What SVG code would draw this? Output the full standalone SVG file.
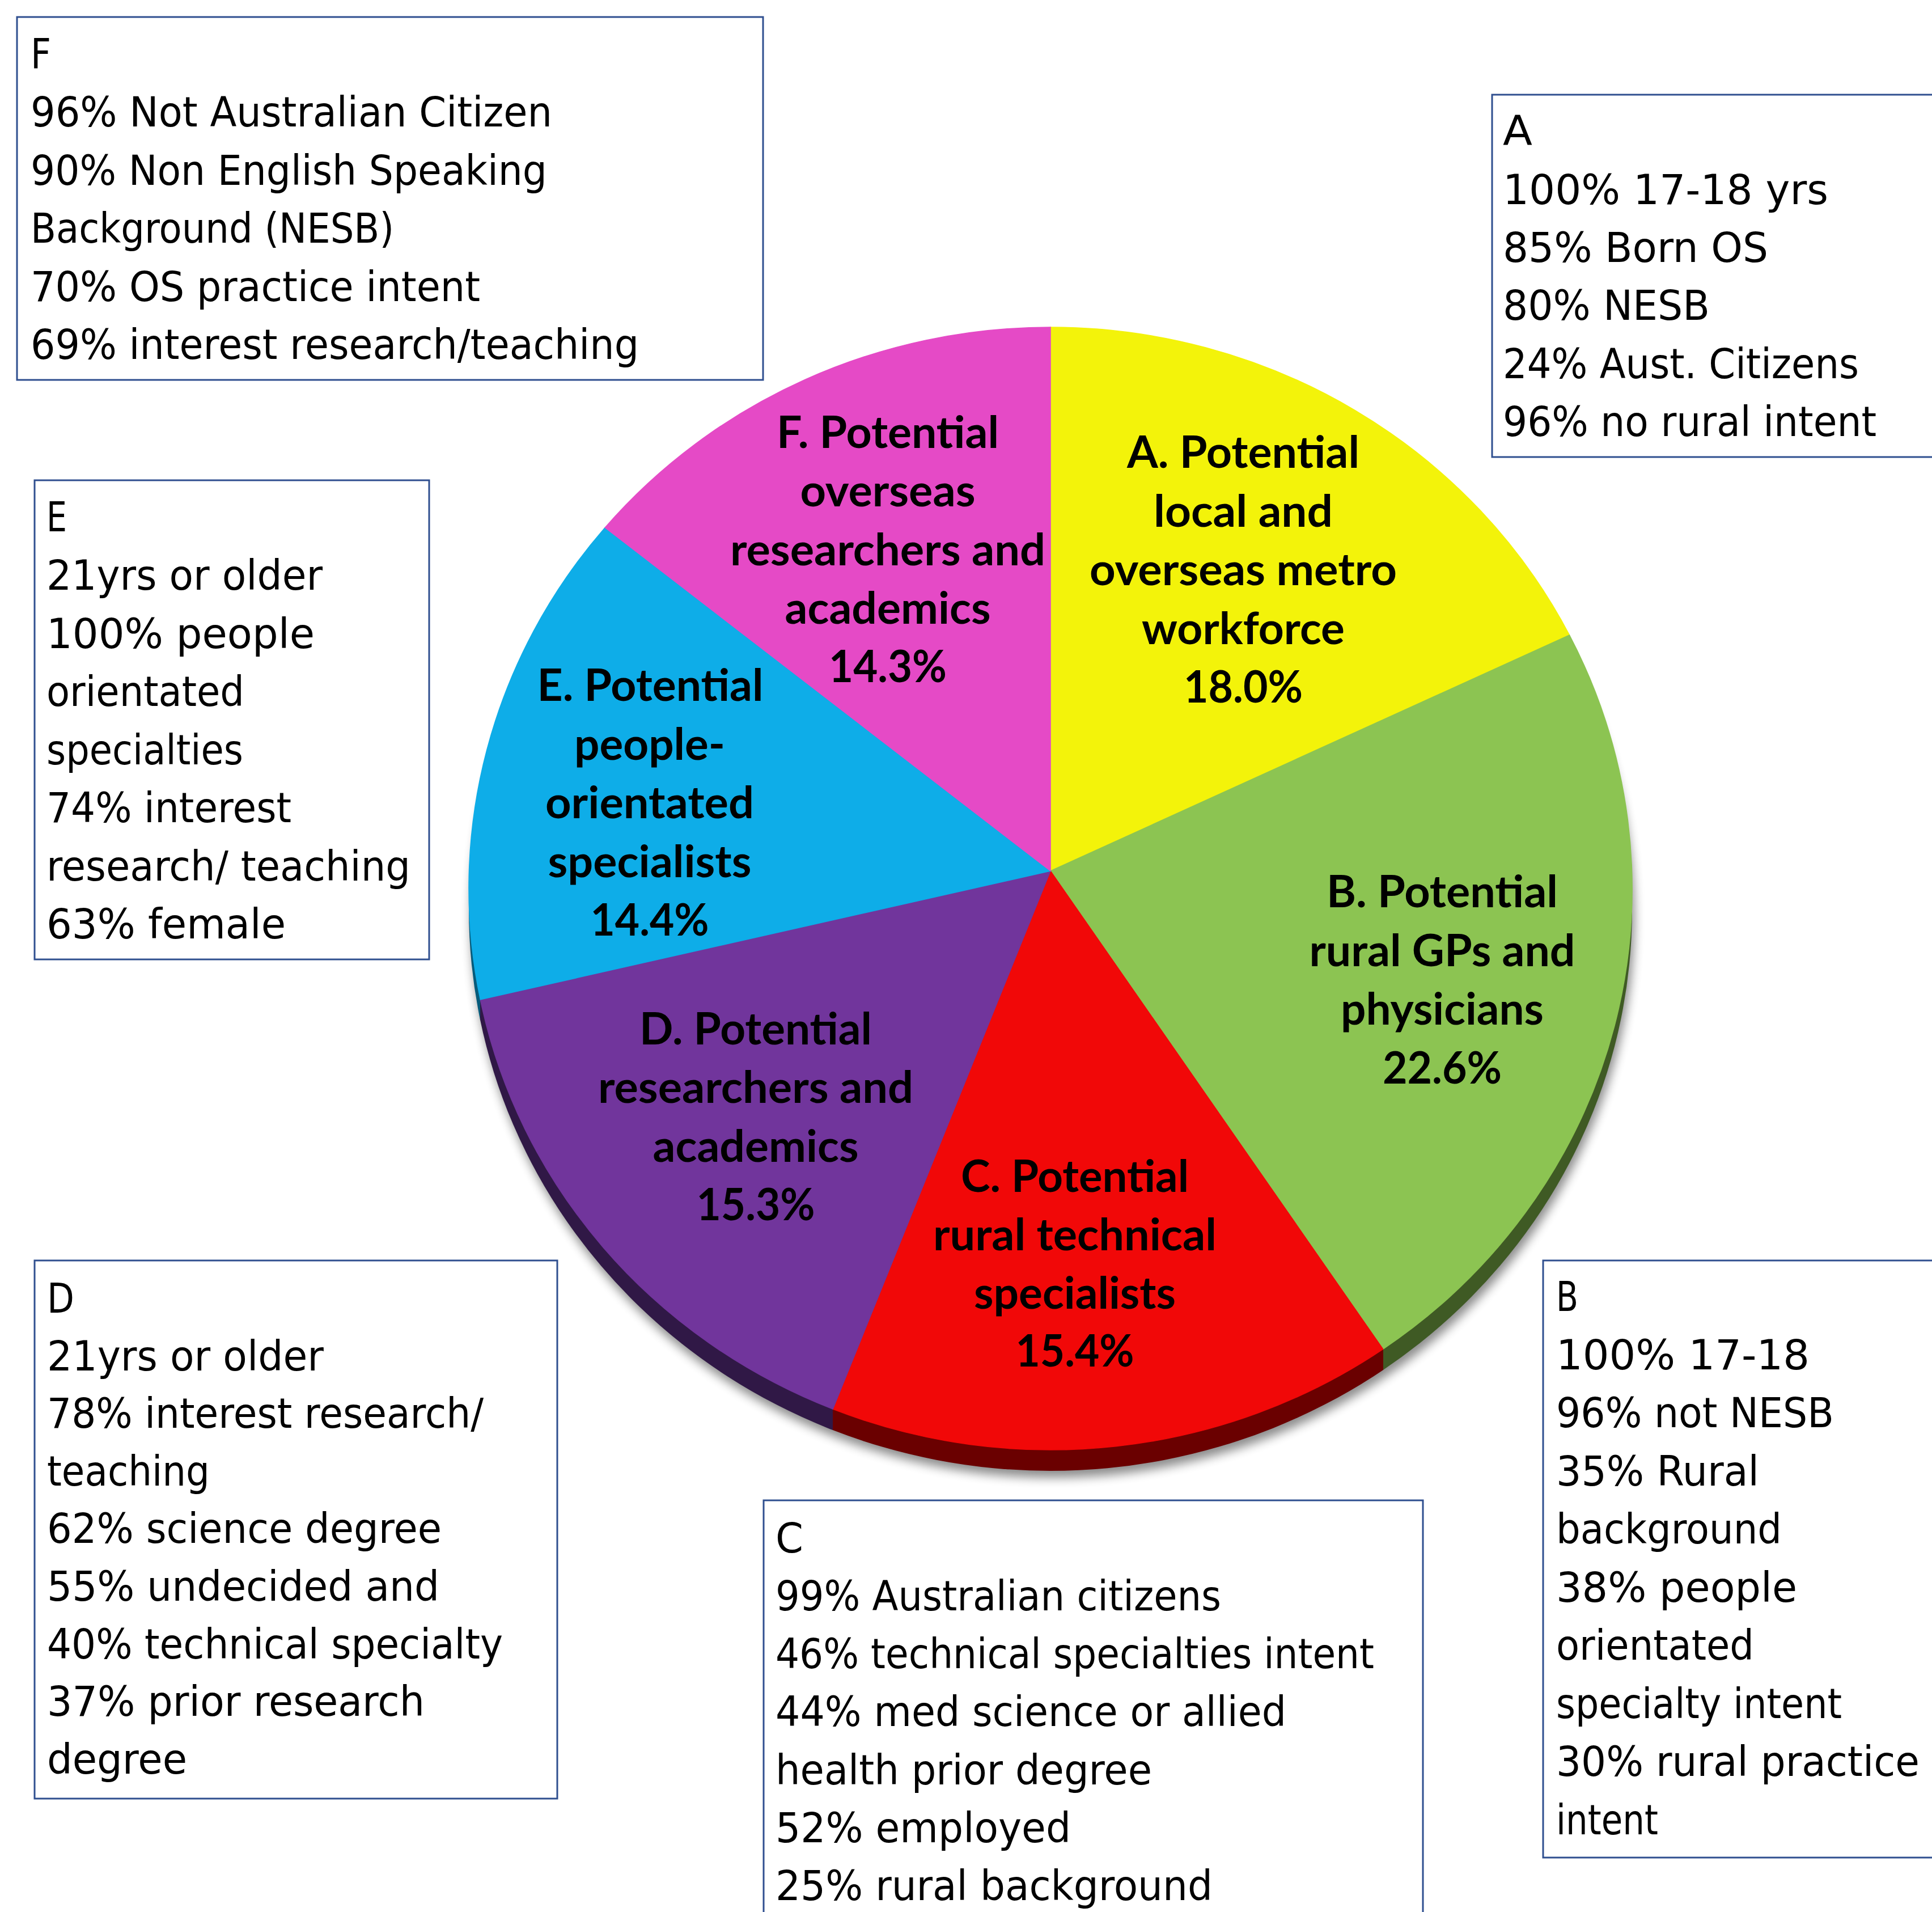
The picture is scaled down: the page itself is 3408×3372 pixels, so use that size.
<svg xmlns="http://www.w3.org/2000/svg" width="3408" height="3372" viewBox="0 0 3408 3372">
<defs>
<style>
.box{fill:#fff;stroke:#2F4F8F;stroke-width:3}
.bt{font-family:"DejaVu Sans","Liberation Sans",sans-serif;font-size:73px;fill:#000}
.pl{font-family:Lato,"Liberation Sans",sans-serif;font-weight:700;font-size:78px;fill:#000;text-anchor:middle}
</style>
<filter id="sh" x="-10%" y="-10%" width="120%" height="120%"><feGaussianBlur stdDeviation="9"/></filter>
<clipPath id="cBlue"><rect x="0" y="0" width="847" height="3372"/></clipPath>
<clipPath id="cPurple"><rect x="847" y="0" width="622" height="3372"/></clipPath>
<clipPath id="cRed"><rect x="1469" y="0" width="971" height="3372"/></clipPath>
<clipPath id="cGreen"><rect x="2440" y="0" width="968" height="3372"/></clipPath>
</defs>
<rect x="0" y="0" width="3408" height="3372" fill="#fff"/>

<g id="pie">
  <ellipse cx="1857" cy="1616" rx="1026" ry="990" fill="#000" opacity="0.45" filter="url(#sh)"/>
  <g id="pie-side">
    <ellipse cx="1853" cy="1604" rx="1026" ry="990" fill="#065b7b" clip-path="url(#cBlue)"/>
    <ellipse cx="1853" cy="1604" rx="1026" ry="990" fill="#301846" clip-path="url(#cPurple)"/>
    <ellipse cx="1853" cy="1604" rx="1026" ry="990" fill="#6a0000" clip-path="url(#cRed)"/>
    <ellipse cx="1853" cy="1604" rx="1026" ry="990" fill="#3f5a24" clip-path="url(#cGreen)"/>
  </g>
  <g id="slice-A"><path d="M1853,1536 L1853,577 A1026,990 0 0 1 2768.4,1119.9 Z" fill="#F3F30A" stroke="#F3F30A" stroke-width="1.5"/>
    <text class="pl" x="2193" y="825" textLength="410" lengthAdjust="spacingAndGlyphs">A. Potential</text>
    <text class="pl" x="2193" y="928.5" textLength="316" lengthAdjust="spacingAndGlyphs">local and</text>
    <text class="pl" x="2193" y="1032" textLength="542" lengthAdjust="spacingAndGlyphs">overseas metro</text>
    <text class="pl" x="2193" y="1135.5" textLength="358" lengthAdjust="spacingAndGlyphs">workforce</text>
    <text class="pl" x="2193" y="1239" textLength="210" lengthAdjust="spacingAndGlyphs">18.0%</text>
  </g>
  <g id="slice-B"><path d="M1853,1536 L2768.4,1119.9 A1026,990 0 0 1 2439.6,2379.4 Z" fill="#8CC452" stroke="#8CC452" stroke-width="1.5"/>
    <text class="pl" x="2544" y="1600" textLength="408" lengthAdjust="spacingAndGlyphs">B. Potential</text>
    <text class="pl" x="2544" y="1703.5" textLength="469" lengthAdjust="spacingAndGlyphs">rural GPs and</text>
    <text class="pl" x="2544" y="1807" textLength="358" lengthAdjust="spacingAndGlyphs">physicians</text>
    <text class="pl" x="2544" y="1910.5" textLength="210" lengthAdjust="spacingAndGlyphs">22.6%</text>
  </g>
  <g id="slice-C"><path d="M1853,1536 L2439.6,2379.4 A1026,990 0 0 1 1469.1,2485.1 Z" fill="#F10808" stroke="#F10808" stroke-width="1.5"/>
    <text class="pl" x="1896" y="2102" textLength="402" lengthAdjust="spacingAndGlyphs">C. Potential</text>
    <text class="pl" x="1896" y="2205" textLength="500" lengthAdjust="spacingAndGlyphs">rural technical</text>
    <text class="pl" x="1896" y="2308" textLength="356" lengthAdjust="spacingAndGlyphs">specialists</text>
    <text class="pl" x="1896" y="2410" textLength="209" lengthAdjust="spacingAndGlyphs">15.4%</text>
  </g>
  <g id="slice-D"><path d="M1853,1536 L1469.1,2485.1 A1026,990 0 0 1 847.3,1762.9 Z" fill="#71359C" stroke="#71359C" stroke-width="1.5"/>
    <text class="pl" x="1333" y="1842" textLength="410" lengthAdjust="spacingAndGlyphs">D. Potential</text>
    <text class="pl" x="1333" y="1945" textLength="556" lengthAdjust="spacingAndGlyphs">researchers and</text>
    <text class="pl" x="1333" y="2048.5" textLength="363" lengthAdjust="spacingAndGlyphs">academics</text>
    <text class="pl" x="1333" y="2151.5" textLength="209" lengthAdjust="spacingAndGlyphs">15.3%</text>
  </g>
  <g id="slice-E"><path d="M1853,1536 L847.3,1762.9 A1026,990 0 0 1 1067.2,930.4 Z" fill="#0EADE8" stroke="#0EADE8" stroke-width="1.5"/>
    <text class="pl" x="1147" y="1236" textLength="399" lengthAdjust="spacingAndGlyphs">E. Potential</text>
    <text class="pl" x="1146" y="1339.5" textLength="266" lengthAdjust="spacingAndGlyphs">people-</text>
    <text class="pl" x="1146" y="1443" textLength="368" lengthAdjust="spacingAndGlyphs">orientated</text>
    <text class="pl" x="1146" y="1546.5" textLength="359" lengthAdjust="spacingAndGlyphs">specialists</text>
    <text class="pl" x="1146" y="1650" textLength="209" lengthAdjust="spacingAndGlyphs">14.4%</text>
  </g>
  <g id="slice-F"><path d="M1853,1536 L1067.2,930.4 A1026,990 0 0 1 1853,577 Z" fill="#E54AC6" stroke="#E54AC6" stroke-width="1.5"/>
    <text class="pl" x="1566" y="790" textLength="392" lengthAdjust="spacingAndGlyphs">F. Potential</text>
    <text class="pl" x="1566" y="893" textLength="309" lengthAdjust="spacingAndGlyphs">overseas</text>
    <text class="pl" x="1566" y="996.5" textLength="556" lengthAdjust="spacingAndGlyphs">researchers and</text>
    <text class="pl" x="1566" y="1099.5" textLength="363" lengthAdjust="spacingAndGlyphs">academics</text>
    <text class="pl" x="1566" y="1203" textLength="208" lengthAdjust="spacingAndGlyphs">14.3%</text>
  </g>
</g>

<g id="box-F">
  <rect class="box" x="30" y="30" width="1316" height="640"/>
  <text class="bt" x="54" y="120" textLength="36" lengthAdjust="spacingAndGlyphs">F</text>
  <text class="bt" x="54" y="223" textLength="920" lengthAdjust="spacingAndGlyphs">96% Not Australian Citizen</text>
  <text class="bt" x="54" y="325.5" textLength="911" lengthAdjust="spacingAndGlyphs">90% Non English Speaking</text>
  <text class="bt" x="54" y="428" textLength="641" lengthAdjust="spacingAndGlyphs">Background (NESB)</text>
  <text class="bt" x="54" y="530.5" textLength="793" lengthAdjust="spacingAndGlyphs">70% OS practice intent</text>
  <text class="bt" x="54" y="633" textLength="1073" lengthAdjust="spacingAndGlyphs">69% interest research/teaching</text>
</g>

<g id="box-A">
  <rect class="box" x="2632" y="167" width="800" height="639"/>
  <text class="bt" x="2651" y="256" textLength="52" lengthAdjust="spacingAndGlyphs">A</text>
  <text class="bt" x="2651" y="360" textLength="574" lengthAdjust="spacingAndGlyphs">100% 17-18 yrs</text>
  <text class="bt" x="2651" y="461.5" textLength="468" lengthAdjust="spacingAndGlyphs">85% Born OS</text>
  <text class="bt" x="2651" y="564" textLength="365" lengthAdjust="spacingAndGlyphs">80% NESB</text>
  <text class="bt" x="2651" y="667" textLength="628" lengthAdjust="spacingAndGlyphs">24% Aust. Citizens</text>
  <text class="bt" x="2651" y="768.5" textLength="659" lengthAdjust="spacingAndGlyphs">96% no rural intent</text>
</g>

<g id="box-E">
  <rect class="box" x="61" y="847" width="696" height="845"/>
  <text class="bt" x="82" y="937" textLength="36" lengthAdjust="spacingAndGlyphs">E</text>
  <text class="bt" x="82" y="1040" textLength="487" lengthAdjust="spacingAndGlyphs">21yrs or older</text>
  <text class="bt" x="82" y="1142.5" textLength="473" lengthAdjust="spacingAndGlyphs">100% people</text>
  <text class="bt" x="82" y="1245" textLength="349" lengthAdjust="spacingAndGlyphs">orientated</text>
  <text class="bt" x="82" y="1347.5" textLength="347" lengthAdjust="spacingAndGlyphs">specialties</text>
  <text class="bt" x="82" y="1450" textLength="432" lengthAdjust="spacingAndGlyphs">74% interest</text>
  <text class="bt" x="82" y="1552.5" textLength="642" lengthAdjust="spacingAndGlyphs">research/ teaching</text>
  <text class="bt" x="82" y="1655" textLength="422" lengthAdjust="spacingAndGlyphs">63% female</text>
</g>

<g id="box-D">
  <rect class="box" x="61" y="2223" width="922" height="949"/>
  <text class="bt" x="83" y="2315" textLength="48" lengthAdjust="spacingAndGlyphs">D</text>
  <text class="bt" x="83" y="2416.6" textLength="488" lengthAdjust="spacingAndGlyphs">21yrs or older</text>
  <text class="bt" x="83" y="2518.2" textLength="770" lengthAdjust="spacingAndGlyphs">78% interest research/</text>
  <text class="bt" x="83" y="2619.8" textLength="287" lengthAdjust="spacingAndGlyphs">teaching</text>
  <text class="bt" x="83" y="2721.4" textLength="696" lengthAdjust="spacingAndGlyphs">62% science degree</text>
  <text class="bt" x="83" y="2823" textLength="692" lengthAdjust="spacingAndGlyphs">55% undecided and</text>
  <text class="bt" x="83" y="2924.6" textLength="804" lengthAdjust="spacingAndGlyphs">40% technical specialty</text>
  <text class="bt" x="83" y="3026.2" textLength="666" lengthAdjust="spacingAndGlyphs">37% prior research</text>
  <text class="bt" x="83" y="3127.8" textLength="247" lengthAdjust="spacingAndGlyphs">degree</text>
</g>

<g id="box-C">
  <rect class="box" x="1347" y="2646" width="1163" height="780"/>
  <text class="bt" x="1368" y="2737.5" textLength="49" lengthAdjust="spacingAndGlyphs">C</text>
  <text class="bt" x="1368" y="2839.8" textLength="786" lengthAdjust="spacingAndGlyphs">99% Australian citizens</text>
  <text class="bt" x="1368" y="2942" textLength="1056" lengthAdjust="spacingAndGlyphs">46% technical specialties intent</text>
  <text class="bt" x="1368" y="3044.3" textLength="901" lengthAdjust="spacingAndGlyphs">44% med science or allied</text>
  <text class="bt" x="1368" y="3146.5" textLength="664" lengthAdjust="spacingAndGlyphs">health prior degree</text>
  <text class="bt" x="1368" y="3248.8" textLength="521" lengthAdjust="spacingAndGlyphs">52% employed</text>
  <text class="bt" x="1368" y="3351" textLength="771" lengthAdjust="spacingAndGlyphs">25% rural background</text>
</g>

<g id="box-B">
  <rect class="box" x="2722" y="2223" width="720" height="1053"/>
  <text class="bt" x="2745" y="2312" textLength="39" lengthAdjust="spacingAndGlyphs">B</text>
  <text class="bt" x="2745" y="2414.5" textLength="447" lengthAdjust="spacingAndGlyphs">100% 17-18</text>
  <text class="bt" x="2745" y="2517" textLength="490" lengthAdjust="spacingAndGlyphs">96% not NESB</text>
  <text class="bt" x="2745" y="2619.5" textLength="358" lengthAdjust="spacingAndGlyphs">35% Rural</text>
  <text class="bt" x="2745" y="2722" textLength="398" lengthAdjust="spacingAndGlyphs">background</text>
  <text class="bt" x="2745" y="2824.5" textLength="425" lengthAdjust="spacingAndGlyphs">38% people</text>
  <text class="bt" x="2745" y="2927" textLength="349" lengthAdjust="spacingAndGlyphs">orientated</text>
  <text class="bt" x="2745" y="3029.5" textLength="504" lengthAdjust="spacingAndGlyphs">specialty intent</text>
  <text class="bt" x="2745" y="3132" textLength="641" lengthAdjust="spacingAndGlyphs">30% rural practice</text>
  <text class="bt" x="2745" y="3234.5" textLength="180" lengthAdjust="spacingAndGlyphs">intent</text>
</g>

<g id="connectors"/>
</svg>
